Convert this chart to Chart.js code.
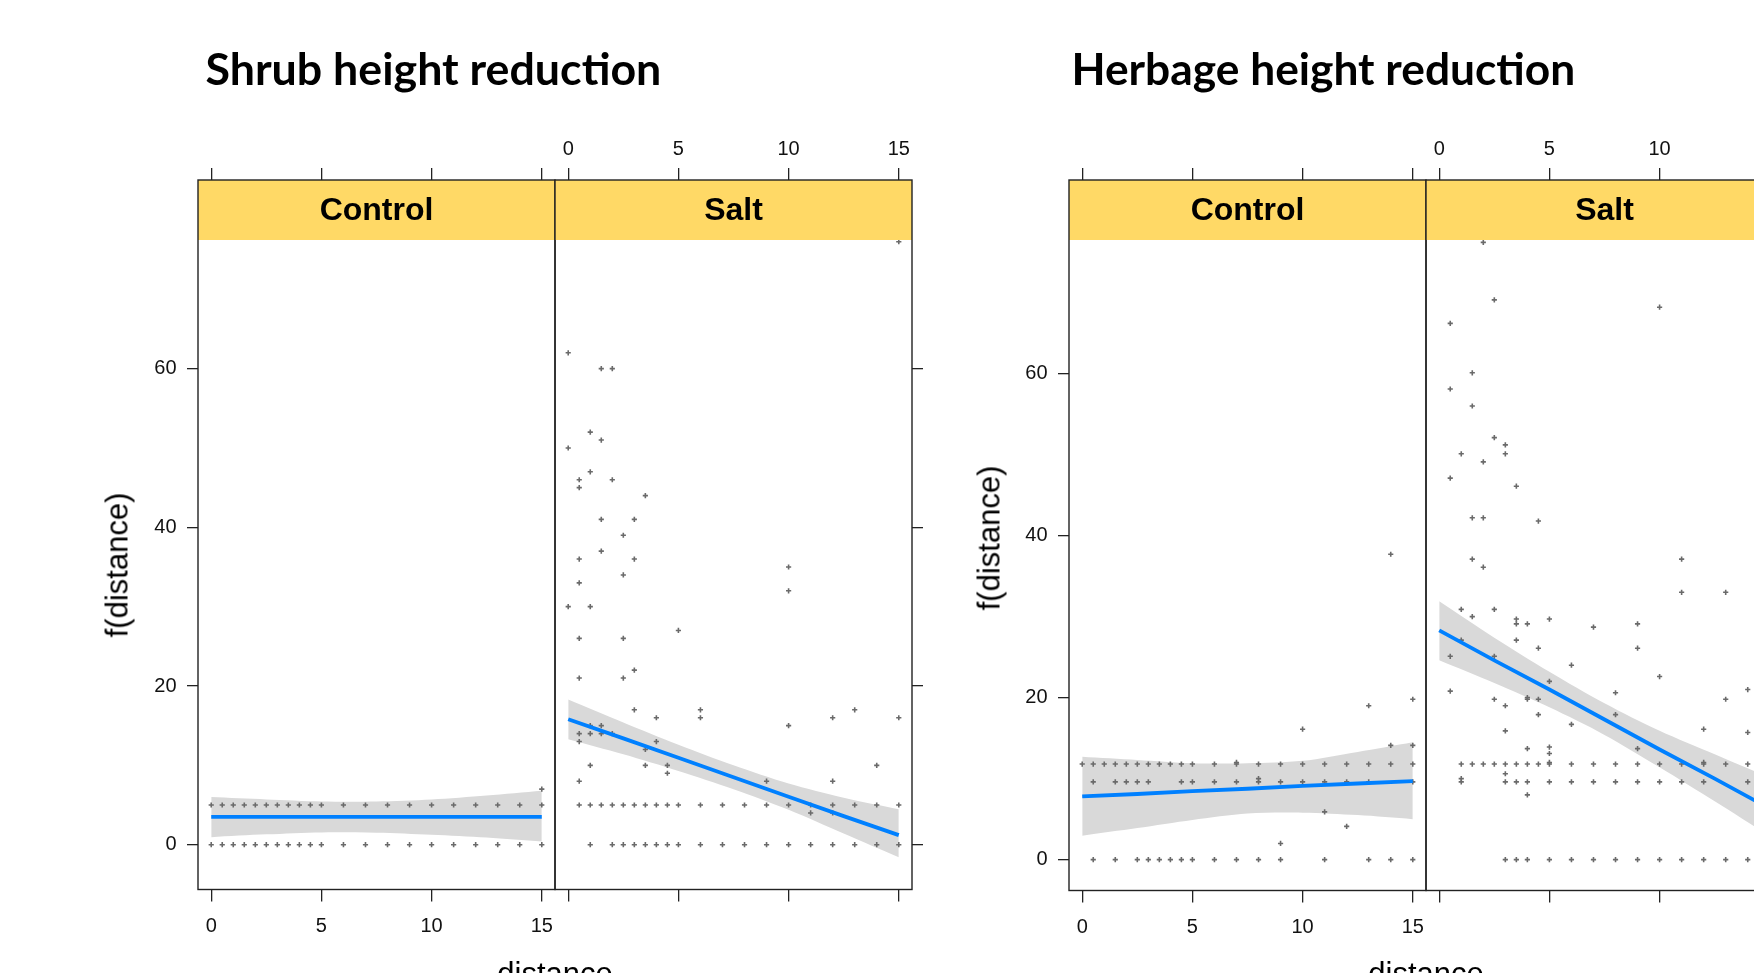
<!DOCTYPE html>
<html>
<head>
<meta charset="utf-8">
<script src="https://cdn.jsdelivr.net/npm/chart.js@4.4.1/dist/chart.umd.min.js"></script>
<style>
  html, body { margin:0; padding:0; background:#fff; }
  #stage { position:relative; width:1754px; height:973px; overflow:hidden; background:#fff; }
  #stage canvas { position:absolute; top:0; }
  .title { position:absolute; left:0; top:0; font-family:'Lato','Open Sans',sans-serif; font-weight:700; color:#000; white-space:nowrap; line-height:1.2; }
  .axlab { position:absolute; font-family:'Liberation Sans', Arial, sans-serif; font-size:31px; color:#000; white-space:nowrap; line-height:1; }
</style>
</head>
<body>
<div id="stage"></div>
<script>
// ---------------- data ----------------
const figureTitles = ['Shrub height reduction', 'Herbage height reduction'];
const panelNames = ['Control', 'Salt'];
const yAxisTitle = 'f(distance)';
const xAxisTitle = 'distance';
const xTickValues = [0, 5, 10, 15];
const yTickValues = [0, 20, 40, 60];
const distances = [0, 0.5, 1, 1.5, 2, 2.5, 3, 3.5, 4, 4.5, 5, 6, 7, 8, 9, 10, 11, 12, 13, 14, 15];

// observed values at each distance (same order as distances)
const shrubControlY = [
  [5,0],[5,0],[5,0],[5,0],[5,0],[5,0],[5,0],[5,0],[5,0],[5,0],[5,0],
  [5,0],[5,0],[5,0],[5,0],[5,0],[5,0],[5,0],[5,0],[5,0],[7,5,0]
];
const shrubSaltY = [
  [62,50,30],
  [46,45,36,33,26,21,14,13,8,5],
  [52,47,30,15,14,10,5,0],
  [60,51,41,37,15,14,5],
  [60,46,14,5,0],
  [39,34,26,21,5,0],
  [41,36,22,17,5,0],
  [44,12,10,5,0],
  [16,13,5,0],
  [10,9,5,0],
  [27,5,0],
  [17,16,5,0],
  [5,0],
  [5,0],
  [8,5,0],
  [35,32,15,5,0],
  [5,4,0],
  [16,8,5,4,0],
  [17,5,0],
  [10,5,0],
  [76,16,5,0]
];
const herbControlY = [
  [11.8],
  [11.8,9.6,0],
  [11.8],
  [11.8,9.6,0],
  [11.8,9.6],
  [11.8,9.6,0],
  [11.8,9.6,0],
  [11.8,0],
  [11.8,0],
  [11.8,9.6,0],
  [11.8,9.6,0],
  [11.8,9.6,0],
  [12.0,11.8,9.6,0],
  [11.8,10.0,9.6,0],
  [11.8,9.6,2.0,0],
  [16.1,11.8,9.6],
  [11.8,9.6,5.9,0],
  [11.8,9.6,4.1],
  [19.0,11.8,9.6,0],
  [37.7,14.1,11.8,0],
  [19.8,14.1,11.8,9.6,0]
];
const herbSaltY = [
  [],
  [66.2,58.1,47.1,25.1,20.8],
  [50.1,30.9,27.1,11.8,10.0,9.6],
  [60.1,56.0,42.2,37.1,30.0,11.8],
  [76.2,49.1,42.2,36.1,11.8],
  [69.1,52.1,30.9,25.1,19.8,11.8],
  [51.2,50.1,19.0,15.9,11.8,10.6,9.6,0],
  [46.1,29.7,29.1,27.1,11.8,9.6,0],
  [29.1,20.0,19.8,13.7,11.8,9.6,8.0,0],
  [41.8,26.1,19.8,17.9,11.8],
  [29.7,22.0,13.9,13.1,12.0,11.8,9.6,0],
  [24.0,16.7,11.8,9.6,0],
  [28.7,11.8,9.6,0],
  [20.6,17.9,11.8,9.6,0],
  [29.1,26.1,13.7,11.8,9.6,0],
  [68.2,22.6,11.8,9.6,0],
  [37.1,33.0,11.8,9.6,0],
  [16.1,12.0,11.8,9.6,0],
  [33.0,19.8,11.8,0],
  [21.0,15.7,11.8,9.6,0],
  []
];

// fitted effect line and confidence band, read at these distances
const fitX = [0, 2.5, 5, 7.5, 10, 12.5, 15];
const shrubControlFit   = [3.5, 3.5, 3.5, 3.5, 3.5, 3.5, 3.5];
const shrubControlUpper = [6.0, 5.7, 5.45, 5.45, 5.7, 6.2, 6.8];
const shrubControlLower = [0.95, 1.3, 1.55, 1.5, 1.25, 0.9, 0.4];
const shrubSaltFit   = [15.8, 13.4, 10.95, 8.5, 6.05, 3.6, 1.2];
const shrubSaltUpper = [18.3, 15.4, 12.6, 10.0, 7.7, 5.9, 4.45];
const shrubSaltLower = [13.3, 11.4, 9.3, 7.0, 4.4, 1.4, -1.6];
const herbControlFit   = [7.8, 8.1, 8.45, 8.75, 9.1, 9.4, 9.7];
const herbControlUpper = [12.7, 12.3, 11.9, 11.9, 12.2, 13.3, 14.5];
const herbControlLower = [2.95, 3.9, 4.9, 5.7, 5.8, 5.5, 5.0];
const herbSaltFit   = [28.3, 24.6, 21.0, 17.3, 13.6, 10.0, 6.3];
const herbSaltUpper = [31.9, 27.4, 23.2, 19.3, 15.9, 13.0, 10.1];
const herbSaltLower = [24.6, 21.8, 18.8, 15.4, 11.4, 7.2, 2.9];

// ---------------- layout / style ----------------
const PAGE_H = 973;
const STRIP_COLOR = '#FFD966';
const LINE_COLOR = '#0080ff';
const BAND_COLOR = '#d9d9d9';
const POINT_COLOR = '#6a6a6a';
const FRAME_COLOR = '#222';

const figures = [
  { title: figureTitles[0], titleLeft: 205.5, titleWidth: 456, titleBaseline: 85.3,
    L: 198, W: 357, T: 180, SB: 240, B: 889.5, yMin: -5.65, yMax: 83.78,
    ylabX: 117, ylabY: 565, xlabY: 973.3,
    panels: [
      { pts: shrubControlY, fit: shrubControlFit, up: shrubControlUpper, lo: shrubControlLower },
      { pts: shrubSaltY, fit: shrubSaltFit, up: shrubSaltUpper, lo: shrubSaltLower } ] },
  { title: figureTitles[1], titleLeft: 1071.5, titleWidth: 504, titleBaseline: 85.3,
    L: 1069, W: 357, T: 180, SB: 240, B: 890.5, yMin: -3.81, yMax: 83.9,
    ylabX: 988.5, ylabY: 537.5, xlabY: 973.3,
    panels: [
      { pts: herbControlY, fit: herbControlFit, up: herbControlUpper, lo: herbControlLower },
      { pts: herbSaltY, fit: herbSaltFit, up: herbSaltUpper, lo: herbSaltLower } ] }
];

const stage = document.getElementById('stage');

function hasFont(name) {
  const c = document.createElement('canvas').getContext('2d');
  const s = '0123456789 Control';
  c.font = '40px monospace'; const a = c.measureText(s).width;
  c.font = '40px "' + name + '", monospace'; const b = c.measureText(s).width;
  return Math.abs(a - b) > 0.5;
}
const narrow = hasFont('Liberation Sans Narrow');
const tickFont = narrow ? { family: '"Liberation Sans Narrow"', size: 21 }
                        : { family: '"Liberation Sans", Arial, sans-serif', size: 20 };

const panelDecor = {
  id: 'panelDecor',
  afterDatasetsDraw(chart, args, opts) {
    const { ctx, chartArea: a } = chart;
    ctx.save();
    ctx.fillStyle = STRIP_COLOR;
    ctx.fillRect(a.left, a.top, a.right - a.left, opts.stripBottom - a.top);
    ctx.fillStyle = '#000';
    ctx.font = 'bold 32px "Liberation Sans", Arial, sans-serif';
    ctx.textAlign = 'center';
    ctx.textBaseline = 'middle';
    ctx.fillText(opts.label, (a.left + a.right) / 2, (a.top + opts.stripBottom) / 2 + 1.5);
    ctx.strokeStyle = FRAME_COLOR;
    ctx.lineWidth = 1.4;
    ctx.strokeRect(a.left, a.top, a.right - a.left, a.bottom - a.top);
    ctx.restore();
  }
};

function xScale(position, showLabels, size, pad) {
  return {
    type: 'linear', position, min: -0.6, max: 15.6,
    afterBuildTicks: s => { s.ticks = xTickValues.map(v => ({ value: v })); },
    afterFit: s => { s.height = size; },
    grid: { drawOnChartArea: false, drawTicks: true, tickLength: 12, color: FRAME_COLOR, lineWidth: 1.3 },
    border: { display: false },
    ticks: { display: showLabels, font: tickFont, color: '#111', padding: pad, maxRotation: 0, autoSkip: false }
  };
}

figures.forEach(fig => {
  fig.panels.forEach((p, side) => {
    const left = side === 0 ? fig.L : fig.L + fig.W;
    const padL = side === 0 ? 120 : 20;
    const padR = side === 0 ? 20 : 30;
    const cw = Math.round(padL + fig.W + padR);
    const canvas = document.createElement('canvas');
    canvas.width = cw; canvas.height = PAGE_H;
    canvas.style.left = (left - padL) + 'px';
    canvas.style.width = cw + 'px'; canvas.style.height = PAGE_H + 'px';
    stage.appendChild(canvas);

    const points = [];
    distances.forEach((d, i) => p.pts[i].forEach(v => points.push({ x: d, y: v })));

    new Chart(canvas.getContext('2d'), {
      type: 'scatter',
      data: { datasets: [
        { type: 'line', label: 'fit', xAxisID: 'x', yAxisID: 'y', order: 0,
          data: fitX.map((x, i) => ({ x, y: p.fit[i] })),
          borderColor: LINE_COLOR, borderWidth: 3.8, pointRadius: 0, fill: false, tension: 0 },
        { type: 'scatter', label: 'obs', xAxisID: 'x', yAxisID: 'y', order: 1,
          data: points, pointStyle: 'cross', pointRadius: 2.6, pointBorderWidth: 1.6,
          borderColor: POINT_COLOR, backgroundColor: POINT_COLOR },
        { type: 'line', label: 'upper', xAxisID: 'x', yAxisID: 'y', order: 2,
          data: fitX.map((x, i) => ({ x, y: p.up[i] })),
          borderColor: 'rgba(0,0,0,0)', borderWidth: 0, pointRadius: 0,
          fill: '+1', backgroundColor: BAND_COLOR, tension: 0.3 },
        { type: 'line', label: 'lower', xAxisID: 'x', yAxisID: 'y', order: 3,
          data: fitX.map((x, i) => ({ x, y: p.lo[i] })),
          borderColor: 'rgba(0,0,0,0)', borderWidth: 0, pointRadius: 0, fill: false, tension: 0.3 }
      ] },
      options: {
        responsive: false, animation: false, devicePixelRatio: 1, events: [],
        layout: { autoPadding: false,
                  padding: { left: side === 0 ? 0 : padL, right: side === 0 ? padR : 0, top: 0, bottom: 0 } },
        plugins: {
          legend: { display: false }, tooltip: { enabled: false }, title: { display: false },
          panelDecor: { label: panelNames[side], stripBottom: fig.SB }
        },
        scales: {
          x: xScale('bottom', side === 0, PAGE_H - fig.B, 13),
          x2: xScale('top', side === 1, fig.T, 6.5),
          y: {
            type: 'linear', position: side === 0 ? 'left' : 'right', min: fig.yMin, max: fig.yMax,
            afterBuildTicks: s => { s.ticks = yTickValues.map(v => ({ value: v })); },
            afterFit: s => { s.width = side === 0 ? padL : padR; },
            grid: { drawOnChartArea: false, drawTicks: true, tickLength: 11, color: FRAME_COLOR, lineWidth: 1.3 },
            border: { display: false },
            ticks: { display: side === 0, font: tickFont, color: '#111', padding: 10.5, autoSkip: false }
          }
        }
      },
      plugins: [panelDecor]
    });
  });

  // figure title (fit to measured width, baseline placed)
  const d = document.createElement('div');
  d.className = 'title';
  const t = document.createElement('span'); t.textContent = fig.title;
  const strut = document.createElement('span');
  strut.style.cssText = 'display:inline-block;width:0;height:0;vertical-align:baseline;';
  d.appendChild(t); d.appendChild(strut);
  d.style.fontSize = '44px';
  stage.appendChild(d);
  const w0 = t.getBoundingClientRect().width;
  d.style.fontSize = (44 * fig.titleWidth / w0) + 'px';
  d.style.left = fig.titleLeft + 'px';
  d.style.top = (fig.titleBaseline - strut.offsetTop) + 'px';

  // axis titles
  const yl = document.createElement('div');
  yl.className = 'axlab'; yl.textContent = yAxisTitle;
  yl.style.left = fig.ylabX + 'px'; yl.style.top = fig.ylabY + 'px';
  yl.style.transform = 'translate(-50%,-50%) rotate(-90deg)';
  stage.appendChild(yl);

  const xl = document.createElement('div');
  xl.className = 'axlab'; xl.textContent = xAxisTitle;
  xl.style.left = (fig.L + fig.W) + 'px'; xl.style.top = fig.xlabY + 'px';
  xl.style.transform = 'translate(-50%,-50%)';
  stage.appendChild(xl);
});
</script>
</body>
</html>
